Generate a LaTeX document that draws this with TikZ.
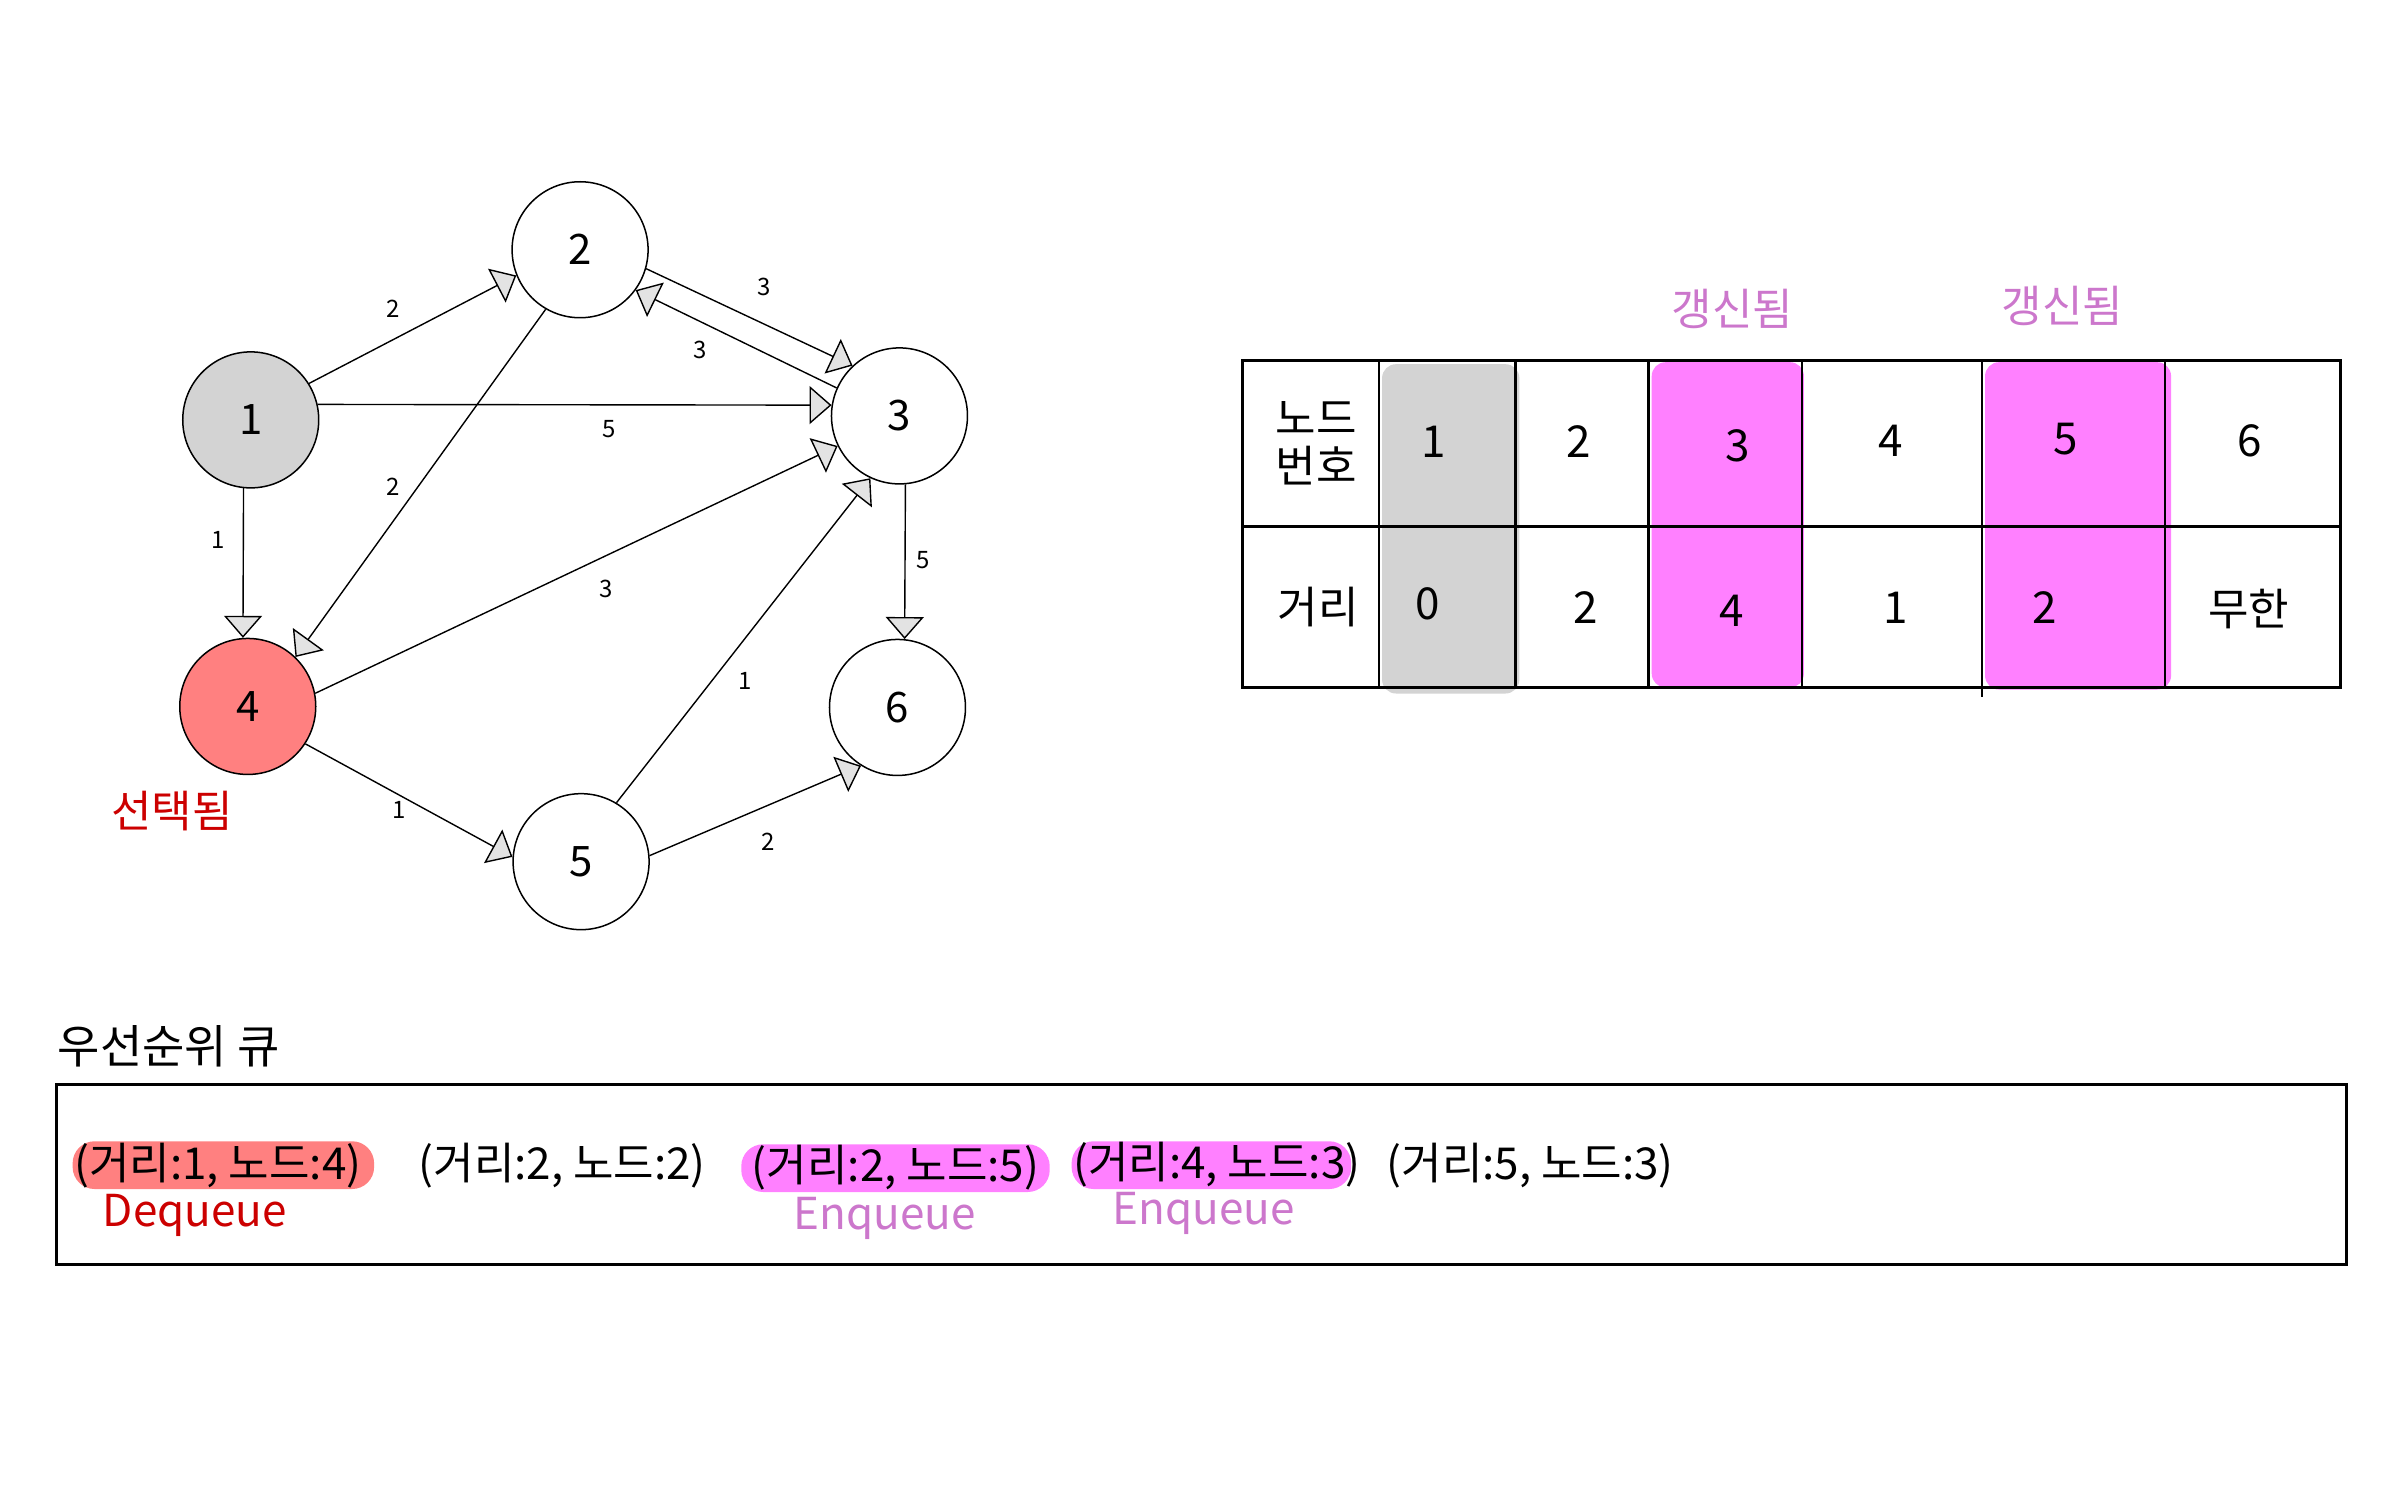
\documentclass[tikz,border=0pt]{standalone}
\usepackage{fontspec}
\setmainfont{Noto Sans CJK KR}
\usetikzlibrary{arrows.meta}
\definecolor{salmonhl}{HTML}{FF8080}
\definecolor{pinkhl}{HTML}{FF80FF}
\definecolor{grayhl}{HTML}{D3D3D3}
\definecolor{redtxt}{HTML}{CC0000}
\definecolor{orchidtxt}{HTML}{CC77CC}
\begin{document}
\begin{tikzpicture}[x=1pt,y=-1pt,
  vert/.style={circle, draw, line width=1.5pt, minimum size=136pt, inner sep=0pt, font=\fontsize{42}{48}\selectfont},
  edge/.style={line width=1.4pt, -{Triangle[length=22pt,width=38pt,fill=gray!22,line width=1.4pt]}},
  elab/.style={font=\fontsize{24}{28}\selectfont},
  cell/.style={font=\fontsize{44}{52}\selectfont, inner sep=0pt},
  qtxt/.style={font=\fontsize{44}{52}\selectfont, inner sep=0pt},
  anno/.style={font=\fontsize{44}{52}\selectfont, inner sep=0pt}
]
\useasboundingbox (0,0) rectangle (2386,1491);
\fill[white] (0,0) rectangle (2386,1491);
\begin{scope}[scale=0.995]
% ---------- graph ----------
\node[vert, fill=grayhl] (n1) at (252,422) {1};
\node[vert] (n2) at (583,251) {2};
\node[vert] (n3) at (904,418) {3};
\node[vert, fill=salmonhl] (n4) at (249,710) {4};
\node[vert] (n5) at (584,866) {5};
\node[vert] (n6) at (902,711) {6};

\draw[edge] (n1.32) -- (n2.202);
\draw[edge] (n2.-16) -- (n3.133);
\draw[edge] (n3.156) -- (n2.-36);
\draw[edge] (n1.13) -- (n3.171);
\draw[edge] (n1.-96) -- (n4.94);
\draw[edge] (n2.240) -- (n4.46);
\draw[edge] (n4.11) -- (n3.206);
\draw[edge] (n4.-33) -- (n5.176);
\draw[edge] (n5.59) -- (n3.245);
\draw[edge] (n5.5) -- (n6.238);
\draw[edge] (n3.-85) -- (n6.84);

\node[elab] (l12) at (395,310) {2};
\node[elab] (l23) at (768,288) {3};
\node[elab] (l32) at (704,352) {3};
\node[elab] (l13) at (612,431) {5};
\node[elab] (l24) at (395,489) {2};
\node[elab] (l14) at (219,543) {1};
\node[elab] (l43) at (609,592) {3};
\node[elab] (l36) at (928,563) {5};
\node[elab] (l53) at (749,684) {1};
\node[elab] (l45) at (401,814) {1};
\node[elab] (l56) at (772,846) {2};

\node[anno, text=redtxt] (sel) at (173,815) {선택됨};

% ---------- table ----------
\fill[grayhl, rounded corners=14pt] (1389,366) rectangle (1527,697);
\fill[pinkhl, rounded corners=14pt] (1660,364) rectangle (1813,691);
\fill[pinkhl, rounded corners=14pt] (1995,364) rectangle (2182,693);

\draw[line width=3pt] (1249,362) rectangle (2352,691);
\draw[line width=3pt] (1249,529) -- (2352,529);
\foreach \xx in {1386,1523,1657,1811,2176} {
  \draw[line width=2.5pt] (\xx,362) -- (\xx,691);
}
\draw[line width=2.5pt] (1992,362) -- (1992,701);

\node[anno, text=orchidtxt] (up3) at (1741,311) {갱신됨};
\node[anno, text=orchidtxt] (up5) at (2073,307) {갱신됨};

\node[cell, align=center] (h1) at (1323,446) {노드\\[-4pt]번호};
\node[cell] (c1) at (1441,444) {1};
\node[cell] (c2) at (1587,444) {2};
\node[cell] (c3) at (1746,448) {3};
\node[cell] (c4) at (1900,443) {4};
\node[cell] (c5) at (2076,441) {5};
\node[cell] (c6) at (2261,443) {6};
\node[cell] (h2) at (1325,610) {거리};
\node[cell] (d1) at (1435,607) {0};
\node[cell] (d2) at (1594,611) {2};
\node[cell] (d3) at (1740,614) {4};
\node[cell] (d4) at (1905,611) {1};
\node[cell] (d5) at (2055,611) {2};
\node[cell] (d6) at (2260,612) {무한};

% ---------- queue ----------
\node[anno, anchor=west, font=\fontsize{46}{54}\selectfont] (qt) at (58,1052) {우선순위 큐};
\draw[line width=3pt] (57,1090) rectangle (2358,1271);

\fill[salmonhl, rounded corners=22pt] (73,1147) rectangle (376,1195);
\fill[pinkhl, rounded corners=22pt] (745,1150) rectangle (1055,1198);
\fill[pinkhl, rounded corners=22pt] (1077,1147) rectangle (1358,1195);

\node[qtxt] (q1) at (219,1171) {(거리:1, 노드:4)};
\node[qtxt] (q2) at (565,1171) {(거리:2, 노드:2)};
\node[qtxt] (q3) at (900,1173) {(거리:2, 노드:5)};
\node[qtxt] (q4) at (1223,1170) {(거리:4, 노드:3)};
\node[qtxt] (q5) at (1538,1171) {(거리:5, 노드:3)};

\node[anno, text=redtxt] (deq) at (196,1222) {Dequeue};
\node[anno, text=orchidtxt] (enq1) at (889,1225) {Enqueue};
\node[anno, text=orchidtxt] (enq2) at (1210,1220) {Enqueue};
\end{scope}
\end{tikzpicture}
\end{document}
